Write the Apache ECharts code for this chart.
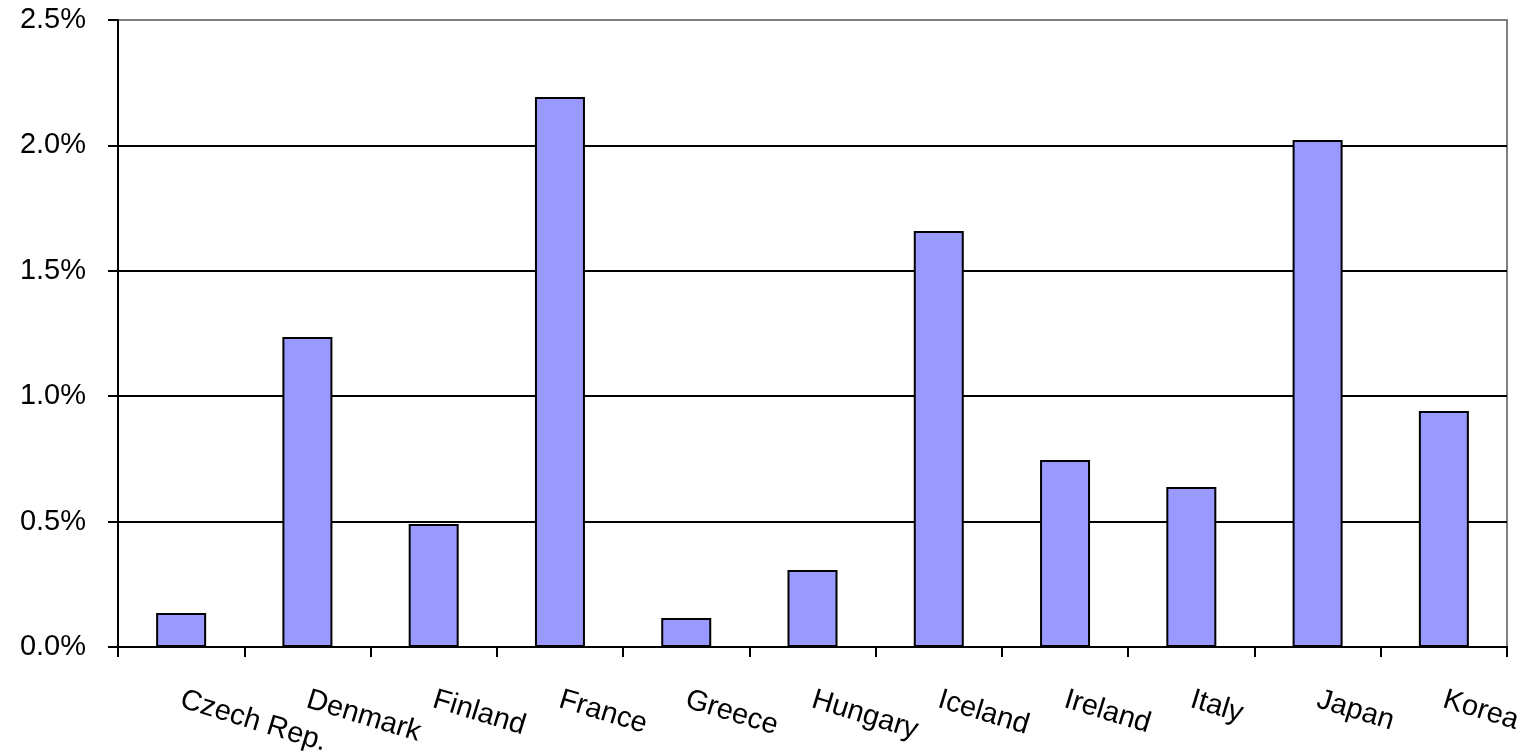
<!DOCTYPE html>
<html>
<head>
<meta charset="utf-8">
<script src="https://cdn.jsdelivr.net/npm/echarts@6/dist/echarts.min.js"></script>
<style>
    html, body { margin: 0; padding: 0; background: #fff; }
    #chart { width: 1539px; height: 756px; }
</style>
</head>
<body>
<div id="chart"></div>
<script>
const countries = ['Czech Rep.', 'Denmark', 'Finland', 'France', 'Greece', 'Hungary', 'Iceland', 'Ireland', 'Italy', 'Japan', 'Korea'];
const shares = [0.136, 1.236, 0.49, 2.193, 0.116, 0.307, 1.659, 0.746, 0.638, 2.022, 0.941];
const yTicks = [0, 0.5, 1.0, 1.5, 2.0, 2.5];

const chart = echarts.init(document.getElementById('chart'));

const font = 'Liberation Sans, Arial, sans-serif';

const option = {
    animation: false,
    grid: {
        left: 118,
        right: 32,
        top: 20,
        bottom: 109,
        outerBoundsMode: 'none',
        show: true,
        borderColor: '#808080',
        borderWidth: 2
    },
    xAxis: {
        type: 'category',
        data: countries,
        axisLine: { show: true, lineStyle: { color: '#000', width: 2 } },
        axisTick: { show: true, length: 10, lineStyle: { color: '#000', width: 2 } },
        axisLabel: {
            rotate: -17,
            margin: 52,
            fontSize: 29,
            fontFamily: font,
            color: '#000',
            interval: 0
        }
    },
    yAxis: {
        type: 'value',
        min: yTicks[0],
        max: yTicks[yTicks.length - 1],
        interval: 0.5,
        axisLine: { show: true, lineStyle: { color: '#000', width: 2 } },
        axisTick: { show: true, inside: false, length: 10, lineStyle: { color: '#000', width: 2 } },
        axisLabel: {
            margin: 32,
            fontSize: 29,
            fontFamily: font,
            color: '#000',
            formatter: v => v.toFixed(1) + '%'
        },
        splitLine: {
            lineStyle: {
                color: ['#000', '#000', '#000', '#000', '#000', '#808080'],
                width: 2
            }
        }
    },
    series: [
        {
            type: 'bar',
            data: shares,
            barWidth: 50,
            itemStyle: {
                color: '#9999ff',
                borderColor: '#000',
                borderWidth: 2
            }
        }
    ]
};

chart.setOption(option);
</script>
</body>
</html>
